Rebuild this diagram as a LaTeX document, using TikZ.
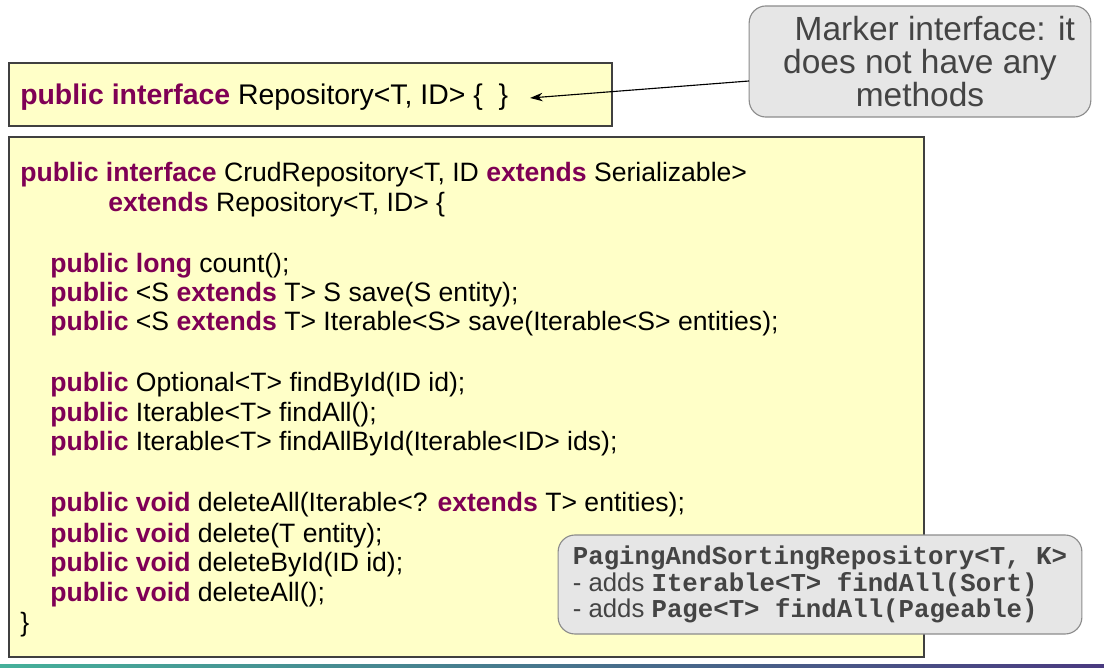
\documentclass[tikz,border=0pt]{standalone}
\usepackage{fontspec}
\setmainfont{Liberation Sans}
\setmonofont{Liberation Mono}
\usepackage{xcolor}
\usepackage{tikz}
\usetikzlibrary{arrows.meta}

\definecolor{keyword}{HTML}{7F0055}
\definecolor{codebg}{HTML}{FFFFC8}
\definecolor{notebg}{HTML}{E6E6E6}
\definecolor{noteline}{HTML}{8C8C8C}
\definecolor{notetext}{HTML}{444444}
\definecolor{stripeleft}{HTML}{45B09A}
\definecolor{stripemid}{HTML}{2A82C0}
\definecolor{striperight}{HTML}{4A3A80}
\newcommand{\kw}[1]{\textcolor{keyword}{\textbf{#1}}}
\newcommand{\mono}[1]{\texttt{\textbf{#1}}}

\tikzset{
  codebox/.style={draw=black!75, line width=1.3pt, fill=codebg},
  codeline/.style={anchor=base west, inner sep=0pt, font=\fontsize{18.9}{22}\selectfont},
  notebox/.style={draw=noteline, fill=notebg, line width=0.8pt, rounded corners=12pt, text=notetext},
}

\begin{document}
\begin{tikzpicture}[x=0.025cm,y=-0.025cm]
  \useasboundingbox (0,0) rectangle (1104,668);
  % interface boxes
  \draw[codebox] (9,63) rectangle (612,126);
  \draw[codebox] (9,137) rectangle (924,657);

  \node[codeline, font=\fontsize{20.2}{24}\selectfont] (repo) at (20,105) {\kw{public interface} Repository<T, ID> \{\ \ \}};

  \node[codeline] (crudhead) at (20,182) {\kw{public interface} CrudRepository<T, ID \kw{extends} Serializable>};
  \node[codeline] (crudext) at (108,212) {\kw{extends} Repository<T, ID> \{};
  \node[codeline] (mcount) at (50,273) {\kw{public long} count();};
  \node[codeline] (msave) at (50,302) {\kw{public} <S \kw{extends} T> S save(S entity);};
  \node[codeline] (msaveall) at (50,331) {\kw{public} <S \kw{extends} T> Iterable<S> save(Iterable<S> entities);};
  \node[codeline] (mfindbyid) at (50,392) {\kw{public} Optional<T> findById(ID id);};
  \node[codeline] (mfindall) at (50,421) {\kw{public} Iterable<T> findAll();};
  \node[codeline] (mfindallbyid) at (50,450) {\kw{public} Iterable<T> findAllById(Iterable<ID> ids);};
  \node[codeline] (mdelall) at (50,511) {\kw{public void} deleteAll(Iterable<? \kw{extends} T> entities);};
  \node[codeline] (mdelete) at (50,542) {\kw{public void} delete(T entity);};
  \node[codeline] (mdelbyid) at (50,571) {\kw{public void} deleteById(ID id);};
  \node[codeline] (mclear) at (50,601) {\kw{public void} deleteAll();};
  \node[codeline] (crudend) at (20,631) {\}};

  % notes
  \node[notebox, minimum width=243pt, minimum height=79pt, align=center,
        font=\fontsize{23.8}{23.2}\selectfont] (marker) at (920,61.5)
    {\hspace*{21pt}Marker interface: it\\ does not have any\\ methods};
  \node[notebox, minimum width=372.5pt, minimum height=70.4pt, align=left,
        font=\fontsize{18.3}{18.9}\selectfont] (paging) at (820,584.5)
    {\mono{PagingAndSortingRepository<T, K>}\\
     - adds \mono{Iterable<T> findAll(Sort)}\\
     - adds \mono{Page<T> findAll(Pageable)}};

  \coordinate (tail) at (749,81);
  \coordinate (tip) at (530,98);
  \draw[-{Stealth[length=9pt,width=6pt]}, line width=0.8pt] (tail) -- (tip);

  % bottom stripe
  \shade[left color=stripeleft, middle color=stripemid, right color=striperight]
    (0,664) rectangle (1104,668);
\end{tikzpicture}
\end{document}
